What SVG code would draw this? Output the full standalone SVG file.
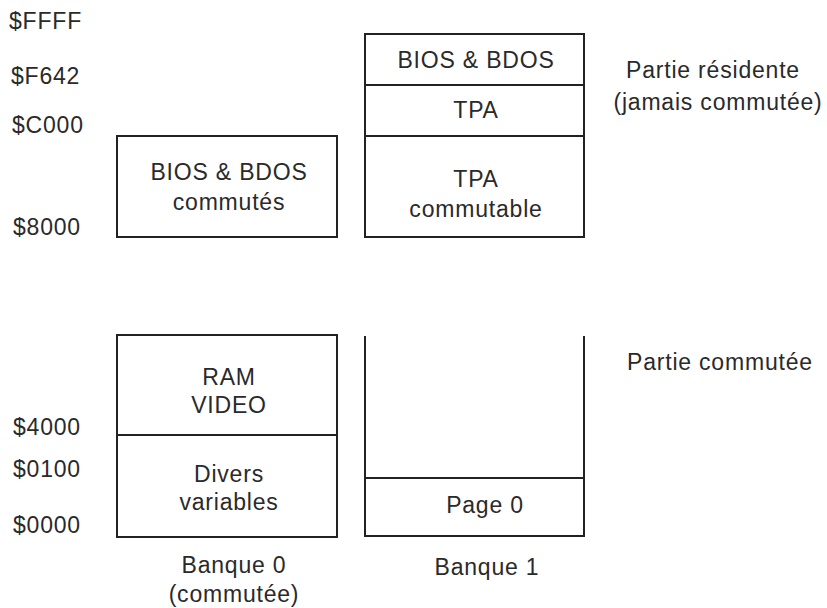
<svg xmlns="http://www.w3.org/2000/svg" width="827" height="608" viewBox="0 0 827 608">
<style>
text{font-family:"Liberation Sans",Arial,sans-serif;font-size:23px;fill:#2a2a2a;letter-spacing:0.8px}
.m{text-anchor:middle}
.box{fill:none;stroke:#222;stroke-width:2}
</style>
<rect width="827" height="608" fill="#fff"/>
<g id="addresses">
<text x="9" y="29">$FFFF</text>
<text x="11" y="84">$F642</text>
<text x="12" y="133">$C000</text>
<text x="13" y="235">$8000</text>
<text x="13" y="435">$4000</text>
<text x="13" y="477">$0100</text>
<text x="13" y="533">$0000</text>
</g>
<g id="bank0-top">
<rect class="box" x="117" y="136" width="220" height="101"/>
<text class="m" x="229" y="180">BIOS &amp; BDOS</text>
<text class="m" x="229" y="210">commutés</text>
</g>
<g id="bank1-top">
<rect class="box" x="365" y="34" width="219" height="203"/>
<line class="box" x1="365" y1="85" x2="584" y2="85"/>
<line class="box" x1="365" y1="136" x2="584" y2="136"/>
<text class="m" x="476" y="68">BIOS &amp; BDOS</text>
<text class="m" x="476" y="118">TPA</text>
<text class="m" x="476" y="187">TPA</text>
<text class="m" x="476" y="217">commutable</text>
</g>
<g id="bank0-bottom">
<rect class="box" x="117" y="335" width="220" height="202"/>
<line class="box" x1="117" y1="435" x2="337" y2="435"/>
<text class="m" x="229" y="385">RAM</text>
<text class="m" x="229" y="413">VIDEO</text>
<text class="m" x="229" y="482">Divers</text>
<text class="m" x="229" y="510">variables</text>
</g>
<g id="bank1-bottom">
<path class="box" d="M365 336 V536 H584 V336"/>
<line class="box" x1="365" y1="478" x2="584" y2="478"/>
<text class="m" x="485" y="513">Page 0</text>
</g>
<g id="labels">
<text class="m" x="713" y="78">Partie résidente</text>
<text class="m" x="718" y="110">(jamais commutée)</text>
<text x="627" y="370">Partie commutée</text>
<text class="m" x="234" y="573">Banque 0</text>
<text class="m" x="234" y="602">(commutée)</text>
<text class="m" x="487" y="575">Banque 1</text>
</g>
</svg>
